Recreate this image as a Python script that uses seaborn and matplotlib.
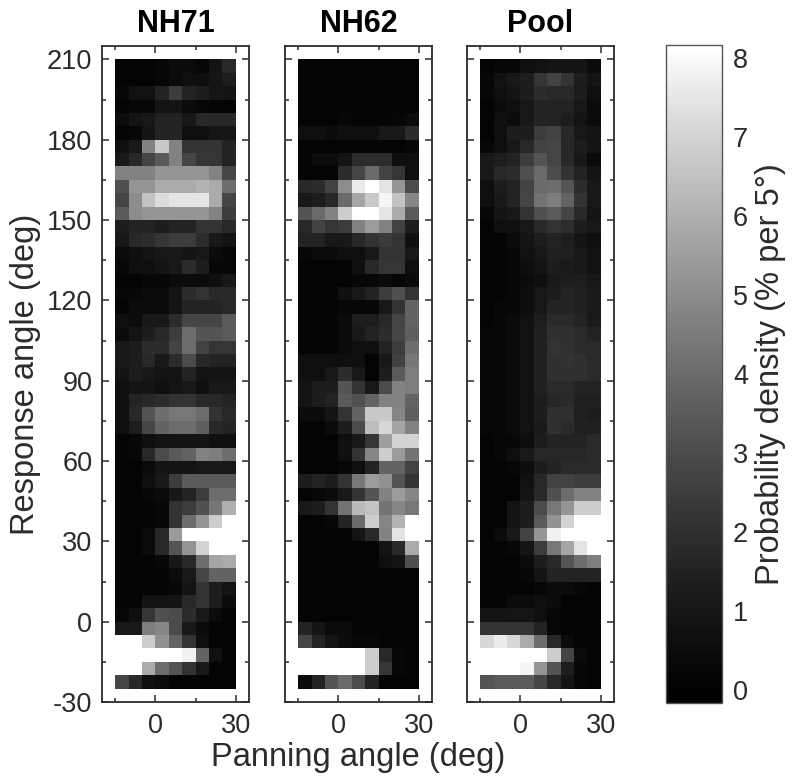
import numpy as np
import pandas as pd
import matplotlib
matplotlib.use('Agg')
import matplotlib.pyplot as plt
from matplotlib.colors import LinearSegmentedColormap
from matplotlib.ticker import FixedLocator
import seaborn as sns

panning_angles = [-12.5, -7.5, -2.5, 2.5, 7.5, 12.5, 17.5, 22.5, 27.5]
response_angles = [207.5 - 5 * i for i in range(47)]

# cell readings, top row = 207.5 deg, taken on a straight gray scale; 8.5 = saturated white
nh71 = [
    [0, 0, 0, .1, .2, .2, .1, .5, 1.15],
    [0, 0, 0, .1, .2, .35, .35, .55, .8],
    [.1, .4, .4, 1, 1.8, 1, .8, .55, .5],
    [0, .1, .1, .5, .5, .2, .1, 0, 0],
    [.2, .5, .65, 1, 1, .65, 1.15, 1.15, 1.15],
    [0, .1, .5, 1, 1, .35, .35, .55, .55],
    [.35, .65, 4.1, 6.4, 4.1, 1.5, 1.5, 1.5, 1],
    [.65, 1.15, 2.1, 2.8, 4.1, 2.1, 1.6, 1.6, 1],
    [4.1, 4.1, 4.1, 4.7, 4.7, 4.7, 4.7, 4.1, 2.1],
    [2.45, 4.7, 4.7, 5.4, 5.4, 5.4, 5.7, 5.4, 3.4],
    [2.1, 4.4, 6.2, 7, 7.3, 7.3, 7.3, 5.4, 2.1],
    [2.8, 4.4, 4.7, 4.7, 4.7, 4.7, 4.7, 4.1, 1.8],
    [.8, 1, 1, .8, 1, 1, 1.5, 1.5, 1.15],
    [.65, 1.15, 1.3, 1.6, 1.8, 1.8, 1.3, .65, .5],
    [.2, .35, .5, .65, .65, .5, .65, .2, .1],
    [.1, .35, .35, .5, .65, 1.3, .8, .1, .1],
    [0, 0, .1, .1, .2, .2, .2, .35, .65],
    [.1, .1, .2, .2, .5, 1.3, 1.5, 1.15, 1.15],
    [0, .2, .2, .2, .5, 1, 1, 1, 1.15],
    [.35, .2, .65, .65, 1.3, 2.1, 2.1, 2.1, 2.8],
    [.2, .5, .8, 1.15, 1.8, 3.4, 2.6, 2.6, 2.8],
    [.65, .8, 1.3, 1.3, 2, 3.4, 2, 1.6, 1.6],
    [.65, .8, 1.15, .65, 1.3, 2.3, 1.15, 1, 1],
    [.5, .8, .65, .5, .5, 1, .5, .5, .5],
    [.35, .5, .5, .35, .5, .65, .35, .65, .65],
    [.35, 1, 1.15, 1.3, 1.5, 1.5, 1.15, 1.15, 1],
    [.35, 1.15, 2.6, 3.4, 3.75, 3.75, 3.4, 1.5, 1.15],
    [.35, .8, 2.1, 3.1, 3.4, 3.4, 2.9, 1.15, 1],
    [0, .1, .35, .5, .5, .5, .5, .35, .35],
    [0, .1, 1.15, 2.3, 2.8, 3.1, 4.1, 3.9, 3.4],
    [0, 0, .2, .5, .5, .5, .65, .65, .65],
    [0, 0, .35, .65, 1.8, 2.8, 2.8, 2.8, 2.8],
    [0, 0, .1, .2, .65, 1, 1.8, 3.4, 3.4],
    [0, 0, 0, .1, 1.5, 1.8, 2.45, 3.75, 5.55],
    [0, 0, 0, .1, 1.5, 3.4, 4.7, 6.5, 8.5],
    [0, 0, .2, 1.15, 4.9, 8.5, 8.5, 8.5, 8.5],
    [0, 0, .2, 1.15, 2.6, 4.7, 6.7, 8.5, 8.5],
    [0, 0, 0, .1, .65, 1.15, 3.4, 5.2, 5.4],
    [0, 0, 0, 0, .2, .65, 2.1, 3.1, 3.1],
    [0, 0, 0, 0, .1, .5, 1.5, .8, .5],
    [0, 0, .5, .5, .5, 1.15, 1.5, .8, .2],
    [.1, .35, 1.6, 2.45, 2.3, 1.3, .65, .2, 0],
    [.65, .65, 3.9, 4.2, 2.3, .65, .2, 0, 0],
    [8.5, 8.5, 6.5, 4.6, 3.1, 1.5, .35, 0, 0],
    [8.5, 8.5, 8.5, 8.5, 8.5, 7.7, 3.1, .35, 0],
    [8.5, 8.5, 5.4, 3.4, 2.6, 1.5, .65, 0, 0],
    [2.1, 1.15, .35, .2, 0, 0, 0, 0, 0],
]

nh62 = [
    [0, 0, 0, 0, 0, 0, 0, 0, 0],
    [0, 0, 0, 0, 0, 0, 0, 0, 0],
    [0, 0, 0, 0, 0, 0, 0, 0, 0],
    [0, 0, 0, 0, 0, 0, 0, 0, 0],
    [0, 0, 0, .1, 0, 0, 0, .1, .2],
    [.35, .35, .2, .35, .35, .35, .65, .65, 1.3],
    [0, 0, 0, 0, 0, 0, 0, 0, .1],
    [0, .2, .2, .5, 1.3, 1.3, 1.3, .35, .35],
    [0, 0, 0, 1.3, 2.1, 3.3, 2, 1.6, .35],
    [1.15, 1.3, 2, 4.4, 7.5, 8.5, 7.2, 4.7, 2.3],
    [.65, .8, 1.15, 3.3, 5.2, 6.4, 7.8, 6.2, 4.2],
    [2.6, 3.3, 4.1, 6.5, 8.5, 8.5, 7.3, 5.4, 2.8],
    [1.15, 2, 1.6, 1.8, 4.1, 4.9, 4.1, 2, .8],
    [1, 1, .65, .65, 1.15, 1.5, 1.8, 1.5, .35],
    [.1, .2, .2, .35, .35, .65, 1.5, 1.5, .65],
    [0, 0, 0, 0, .35, 1.15, 1.6, 1.6, .35],
    [0, 0, 0, 0, .1, .1, .2, .1, .2],
    [0, 0, 0, .35, .65, 1, 1.8, 2.45, 1.5],
    [0, 0, 0, .1, .1, .1, .65, 1.5, 3.1],
    [0, 0, 0, .2, .8, .8, 1.15, 2.1, 3.1],
    [0, 0, 0, .2, .65, 1, 1.3, 2.1, 2.9],
    [0, 0, 0, .2, .35, .35, 1, 1.8, 3.4],
    [.35, .35, .35, .35, .35, 0, .65, 2, 3.75],
    [.35, .35, .65, 1.3, .65, 0, .8, 2.8, 3.9],
    [.5, .8, .8, 2.6, 1.5, .65, 2.3, 4.1, 3.9],
    [.5, .8, 1, 2.8, 2.45, 3.1, 4.1, 4.1, 3.1],
    [.2, .2, .5, 1.5, 3.1, 6.4, 6.4, 4.2, 2.9],
    [0, 0, .2, .8, 2.3, 6, 6.85, 5.2, 4.1],
    [0, 0, 0, .35, .65, 1.6, 5, 6.7, 6.7],
    [0, 0, 0, .35, 1.5, 4.2, 6.5, 4.9, 3.6],
    [0, 0, 0, .1, .35, 1, 3.1, 3.1, 2],
    [.8, 1, .8, 1.5, 3.75, 4.9, 4.6, 2.6, 1.5],
    [0, .1, .2, .65, 1.5, 2.6, 4.1, 4.9, 4.2],
    [.65, .8, 1.5, 3.6, 5.9, 6.2, 3.6, 4.2, 3.75],
    [0, 0, .1, 1, 3.3, 6.5, 4.2, 5.7, 8.5],
    [0, 0, 0, 0, .5, 1.15, 4.1, 7.2, 8.5],
    [0, 0, 0, 0, 0, 0, .5, 1.15, 5.4],
    [0, 0, 0, 0, 0, 0, .35, .5, 2.45],
    [0, 0, 0, 0, 0, 0, 0, 0, 0],
    [0, 0, 0, 0, 0, 0, 0, 0, 0],
    [0, 0, 0, 0, 0, 0, 0, 0, 0],
    [0, 0, 0, 0, 0, 0, 0, 0, 0],
    [1, .5, .2, .2, 0, 0, 0, 0, 0],
    [2.1, 1, .5, .2, .1, .1, 0, 0, 0],
    [8.5, 8.5, 8.5, 8.5, 8.5, 6.5, 1.15, .1, 0],
    [8.5, 8.5, 8.5, 8.5, 8.5, 6.5, 1.6, .1, 0],
    [.2, 1, 2.6, 3.3, 2.3, 1, 0, 0, 0],
]

pool = [
    [0, .1, .1, .35, .4, .5, .5, .5, .2],
    [.1, .4, .65, .8, 1.6, 2, 1.5, .8, .5],
    [.1, .35, .5, .8, 1.3, 1.15, 1.15, .8, .35],
    [0, .2, .35, .65, 1, 1, 1, .65, .2],
    [0, .35, .2, .65, 1, 1, .8, .5, .2],
    [0, .35, .8, .8, 1.8, 2, 1.15, .65, .5],
    [.1, .35, .65, 1.15, 2, 2.1, 1.15, .8, .5],
    [.65, .8, 1, 1.8, 2.6, 2.1, 1.15, .65, .2],
    [.65, 1.15, 1.3, 2.45, 3.3, 2.3, 1.5, 1, .5],
    [.35, .8, 1, 2, 3.3, 3.4, 2.6, 1.3, .65],
    [.35, .65, 1, 2.1, 3.6, 3.9, 3.1, 1.5, .65],
    [.1, .5, .65, 1.5, 2.45, 2.8, 2.1, 1.15, .5],
    [0, .35, .35, .65, 1.15, 1.5, 1.3, .8, .65],
    [0, 0, .2, .5, .8, 1, .8, .5, .35],
    [0, 0, .1, .4, .6, .9, .9, .6, .4],
    [0, 0, .1, .3, .5, .8, .7, .6, .4],
    [0, 0, .1, .2, .3, .7, .8, .8, .6],
    [0, 0, .1, .3, .6, .8, 1, .9, .7],
    [0, .1, .1, .3, .6, 1, 1, .9, .7],
    [0, .1, .2, .4, .8, 1.2, 1.2, 1, .7],
    [.1, .1, .2, .4, .9, 1.4, 1.4, 1.2, 1],
    [.1, .1, .2, .4, .9, 1.5, 1.4, 1.2, 1.2],
    [.1, .1, .2, .4, .9, 1.4, 1.5, 1.4, 1.2],
    [.1, .1, .2, .4, .9, 1.4, 1.4, 1.4, 1.2],
    [.1, .1, .2, .4, .9, 1.2, 1.2, 1, 1],
    [.1, .1, .2, .4, .8, 1.1, 1.2, .9, .9],
    [.1, .1, .2, .4, .8, 1.4, 1.4, .9, .8],
    [.1, .1, .2, .4, .7, 1.4, 1.2, .9, .9],
    [0, .1, .1, .3, .8, 1, 1, 1, 1.2],
    [0, .1, .35, .7, 1.1, 1.1, 1.1, 1.1, 1.2],
    [0, 0, .1, .3, .8, 1, 1.2, 1.2, 1.2],
    [0, 0, 0, .4, 1.15, 2, 2, 1.8, 1.8],
    [0, 0, 0, .5, 1.15, 2.45, 3.4, 4.1, 4.1],
    [0, 0, .5, .8, 2.3, 3.75, 4.7, 6.5, 6.5],
    [0, 0, .5, .8, 2.8, 4.6, 6.7, 8.5, 8.5],
    [0, .2, .65, 2, 4.7, 7.7, 8.5, 8.5, 8.5],
    [0, 0, .1, .5, 1.8, 3.75, 5.2, 7.2, 8.5],
    [0, 0, 0, .2, .8, 1.15, 2.6, 3.4, 3.9],
    [0, 0, 0, .1, .5, 1, 1, 1, 1],
    [0, 0, 0, 0, .1, .2, .2, .1, 0],
    [0, 0, .2, .2, .35, .2, 0, 0, 0],
    [.5, .5, .55, .55, .35, .1, 0, 0, 0],
    [1.5, 1.5, 1.5, 1.5, 1, .1, 0, 0, 0],
    [6.85, 7.5, 6.85, 5.4, 3.4, 1.15, .2, 0, 0],
    [8.5, 8.5, 8.5, 8.5, 8.5, 6.5, 2.1, .2, 0],
    [8.5, 8.5, 8.5, 7.8, 4.7, 2.6, .8, .1, 0],
    [2.6, 2.8, 2.8, 2.8, 2.1, 1.15, .5, .1, 0],
]

panel_names = ['NH71', 'NH62', 'Pool']
panel_data = [nh71, nh62, pool]
panel_left_px = [102, 285, 467]
cbar_ticks = [0, 1, 2, 3, 4, 5, 6, 7, 8]
vmin, vmax = -0.16, 8.16
gamma = 1.25  # the colorbar's gray ramp is darker than a straight one

sns.set_theme(style='white')
plt.rcParams['font.family'] = ['Liberation Sans', 'DejaVu Sans']
ink = '#2b2b2b'
W, H = 800, 782

ramp = np.linspace(0, 1, 64)
bar_gray = LinearSegmentedColormap.from_list('bar_gray', [(t, (t ** gamma,) * 3) for t in ramp])


def px_axes(left, top, right, bottom):
    return fig.add_axes([left / W, 1 - bottom / H, (right - left) / W, (bottom - top) / H])


def col_pos(angle):
    return (np.asarray(angle, float) + 15) / 5


def row_pos(angle):
    return (210 - np.asarray(angle, float)) / 5


def calibrate(rows):
    # readings -> the colorbar's scale
    t = np.clip((np.array(rows, float) - vmin) / (vmax - vmin), 0, 1)
    return vmin + (vmax - vmin) * t ** (1 / gamma)


fig = plt.figure(figsize=(8, 7.82), dpi=100)
cax = px_axes(666, 45, 722, 703)

for i, (name, rows, left) in enumerate(zip(panel_names, panel_data, panel_left_px)):
    ax = px_axes(left, 46, left + 147, 702)
    df = pd.DataFrame(calibrate(rows), index=response_angles, columns=panning_angles)
    sns.heatmap(df, ax=ax, cmap=bar_gray, vmin=vmin, vmax=vmax, cbar=i == 2,
                cbar_ax=cax if i == 2 else None, xticklabels=False, yticklabels=False)
    ax.set_xlim(col_pos(-20), col_pos(35))
    ax.set_ylim(row_pos(-30), row_pos(215))
    ax.set_facecolor('white')
    ax.set_xlabel('')
    ax.set_ylabel('')
    for s in ax.spines.values():
        s.set_visible(True)
        s.set_color(ink)
        s.set_linewidth(1.3)
    ax.xaxis.set_major_locator(FixedLocator(col_pos([0, 30])))
    ax.xaxis.set_minor_locator(FixedLocator(col_pos([-15, 15])))
    ax.yaxis.set_major_locator(FixedLocator(row_pos(np.arange(-30, 211, 30))))
    ax.yaxis.set_minor_locator(FixedLocator(row_pos(np.arange(-15, 196, 30))))
    ax.tick_params(which='major', direction='in', length=5, width=1.1, color=ink,
                   top=True, right=True, bottom=True, left=True)
    ax.tick_params(which='minor', direction='in', length=3, width=1.1, color=ink,
                   top=True, right=True, bottom=True, left=True)
    ax.tick_params(axis='x', which='major', pad=8)
    ax.tick_params(axis='y', which='major', pad=7)
    ax.set_xticklabels(['0', '30'], fontsize=19.5, color=ink)
    if i == 0:
        ax.set_yticklabels([str(a) for a in range(-30, 211, 30)], fontsize=19.5, color=ink, rotation=0)
        ax.set_ylabel('Response angle (deg)', fontsize=23.5, color=ink, labelpad=4)
    else:
        ax.set_yticklabels([])
    if i == 1:
        ax.set_xlabel('Panning angle (deg)', fontsize=23.5, color=ink, labelpad=2)
    ax.set_title(name, fontsize=22, fontweight='bold', color='black', pad=10)

cb = ax.collections[0].colorbar
cb.set_ticks(cbar_ticks)
cb.set_ticklabels([str(t) for t in cbar_ticks])
cax.tick_params(axis='y', length=0, labelsize=19.5, labelcolor=ink, pad=8)
cb.outline.set_visible(True)
cb.outline.set_edgecolor('#555555')
cb.outline.set_linewidth(1.0)
cb.set_label('Probability density (% per 5°)', fontsize=23.5, color=ink, labelpad=5)

fig.savefig('out.png', dpi=100)
